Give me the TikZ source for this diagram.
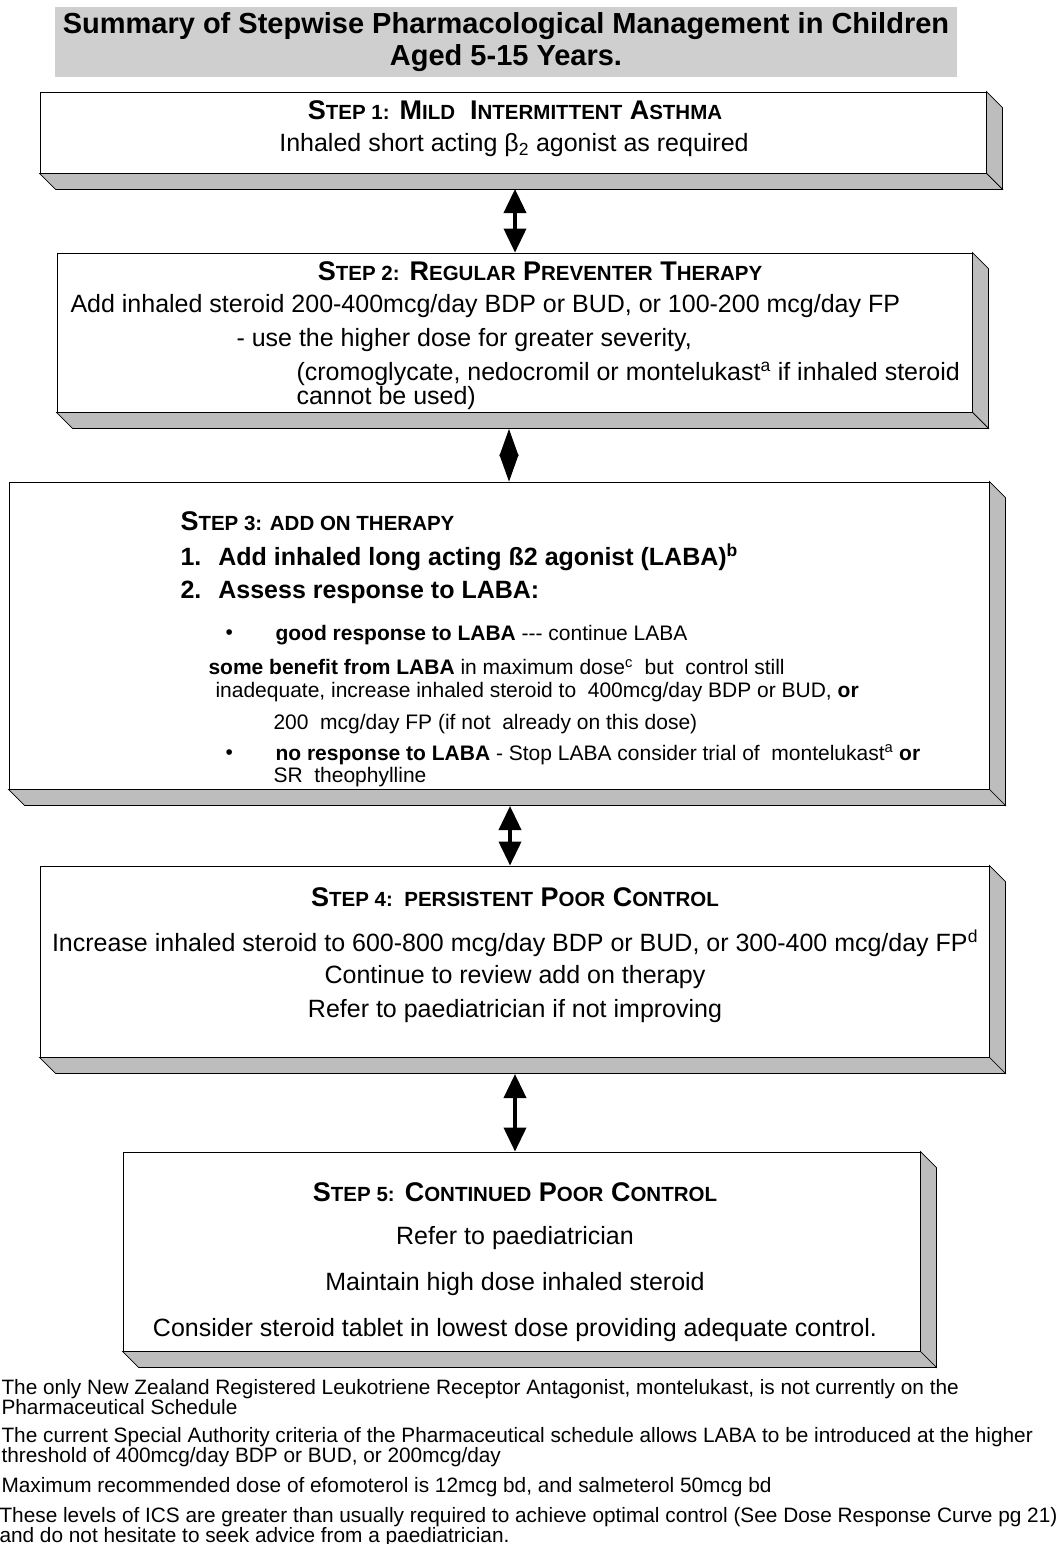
\documentclass[tikz,border=0pt]{standalone}
\usepackage{fontspec}
\setmainfont{Liberation Sans}
\usetikzlibrary{arrows.meta,calc}

% small capitals made by hand
\newcommand\smc[1]{{\fontsize{20.5}{20.5}\selectfont #1}}
% right and bottom slab of a raised box
\newcommand\slab[2]{%
  \filldraw[slabfill] (#1.north east) -- ++(#2,#2) -- ($(#1.south east)+(#2,#2)$) -- (#1.south east) -- cycle;
  \filldraw[slabfill] (#1.south west) -- ++(#2,#2) -- ($(#1.south east)+(#2,#2)$) -- (#1.south east) -- cycle;
}

\begin{document}
\begin{tikzpicture}
[x=1pt,y=-1pt,
 front/.style={draw,line width=.9pt,fill=white,inner sep=0pt},
 slabfill/.style={fill=gray!52,draw=black,line width=.7pt},
 head/.style={font=\bfseries\fontsize{27}{27}\selectfont},
 item/.style={font=\bfseries\fontsize{25}{25}\selectfont,anchor=west},
 body/.style={font=\fontsize{25}{22}\selectfont},
 sub/.style={font=\fontsize{21}{22.5}\selectfont,anchor=west,align=left},
 note/.style={font=\fontsize{20.8}{19.5}\selectfont,anchor=west,align=left},
 updown/.style={{Triangle[width=22pt,length=24pt]}-{Triangle[width=22pt,length=24pt]},line width=3.8pt},
 diam/.style={{Triangle[width=19pt,length=27pt]}-{Triangle[width=19pt,length=27pt]},line width=1pt},
]
\useasboundingbox (0,0) rectangle (1059,1544);

%Title
\node (title) at (506,42) [fill=gray!38,minimum width=902,minimum height=70,align=center,
  font=\bfseries\fontsize{29}{32}\selectfont]
  {Summary of Stepwise Pharmacological Management in Children\\Aged 5-15 Years.};

%Step boxes
\node (s1) at (513,132.5) [front,minimum width=946,minimum height=81] {};
\slab{s1}{16}
\node (s2) at (514.5,332.5) [front,minimum width=915,minimum height=159] {};
\slab{s2}{16}
\node (s3) at (499,635.5) [front,minimum width=980,minimum height=307] {};
\slab{s3}{16}
\node (s4) at (514.5,961.5) [front,minimum width=949,minimum height=191] {};
\slab{s4}{16}
\node (s5) at (521.5,1251.5) [front,minimum width=797,minimum height=199] {};
\slab{s5}{16}

%Step 1
\node (h1) at (515,110) [head] {S\smc{TEP 1:} M\smc{ILD} \ I\smc{NTERMITTENT} A\smc{STHMA}};
\node (b1) at (514,145) [body] {Inhaled short acting β\textsubscript{2} agonist as required};

%Step 2
\node (h2) at (540,271) [head] {S\smc{TEP 2:} R\smc{EGULAR} P\smc{REVENTER} T\smc{HERAPY}};
\node (b2a) at (67,306) [body,anchor=west] {Add inhaled steroid 200-400mcg/day BDP or BUD, or 100-200 mcg/day FP};
\node (b2b) at (233,340) [body,anchor=west] {- use the higher dose for greater severity,};
\node (b2c) at (293,386) [body,anchor=west,align=left] {(cromoglycate, nedocromil or montelukast\textsuperscript{a} if inhaled steroid\\cannot be used)};

%Step 3
\node (h3) at (177,521) [head,anchor=west] {S\smc{TEP 3: ADD ON THERAPY}};
\node (b3a) at (177,557) [item] {1.\hspace{17pt}Add inhaled long acting ß2 agonist (LABA)\textsuperscript{b}};
\node (b3b) at (177,592) [item] {2.\hspace{17pt}Assess response to LABA:};
\node (d1) at (222,635) [sub] {\textbullet};
\node (b3c) at (272,635) [sub] {\textbf{good response to LABA} -{}-{}- continue LABA};
\node (b3d) at (205,680.5) [sub] {\textbf{some benefit from LABA} in maximum dose\textsuperscript{c}\ \ but\ \ control still\\\hspace*{7pt}inadequate, increase inhaled steroid to\ \ 400mcg/day BDP or BUD, \textbf{or}};
\node (b3f) at (270,724) [sub] {200\ \ mcg/day FP (if not\ \ already on this dose)};
\node (d2) at (222,755) [sub] {\textbullet};
\node (b3g) at (270,766) [sub] {\hspace*{2pt}\textbf{no response to LABA} - Stop LABA consider trial of\ \ montelukast\textsuperscript{a} \textbf{or}\\SR\ \ theophylline};

%Step 4
\node (h4) at (515,897) [head] {S\smc{TEP 4:\ \ PERSISTENT} P\smc{OOR} C\smc{ONTROL}};
\node (b4a) at (515,943) [body] {Increase inhaled steroid to 600-800 mcg/day BDP or BUD, or 300-400 mcg/day FP\textsuperscript{d}};
\node (b4b) at (515,977) [body] {Continue to review add on therapy};
\node (b4c) at (515,1011) [body] {Refer to paediatrician if not improving};

%Step 5
\node (h5) at (515,1192) [head] {S\smc{TEP 5:} C\smc{ONTINUED} P\smc{OOR} C\smc{ONTROL}};
\node (b5a) at (515,1238) [body] {Refer to paediatrician};
\node (b5b) at (515,1284) [body] {Maintain high dose inhaled steroid};
\node (b5c) at (515,1330) [body] {Consider steroid tablet in lowest dose providing adequate control.};

%Arrows between steps
\coordinate (a1) at (515,189);
\coordinate (a2) at (509,429);
\coordinate (a3) at (510,806);
\coordinate (a4) at (515,1074);
\draw[updown] (a1) -- (s2.north -| a1);
\draw[diam] (a2) -- (s3.north -| a2);
\draw[updown] (a3) -- (s4.north -| a3);
\draw[updown] (a4) -- (s5.north -| a4);

%Footnotes
\node (n1) at (-2,1397) [note] {The only New Zealand Registered Leukotriene Receptor Antagonist, montelukast, is not currently on the\\Pharmaceutical Schedule};
\node (n2) at (-2,1447) [note] {The current Special Authority criteria of the Pharmaceutical schedule allows LABA to be introduced at the higher\\threshold of 400mcg/day BDP or BUD, or 200mcg/day};
\node (n3) at (-2,1487) [note] {Maximum recommended dose of efomoterol is 12mcg bd, and salmeterol 50mcg bd};
\node (n4) at (-4,1527) [note] {These levels of ICS are greater than usually required to achieve optimal control (See Dose Response Curve pg 21)\\and do not hesitate to seek advice from a paediatrician.};

\end{tikzpicture}
\end{document}
